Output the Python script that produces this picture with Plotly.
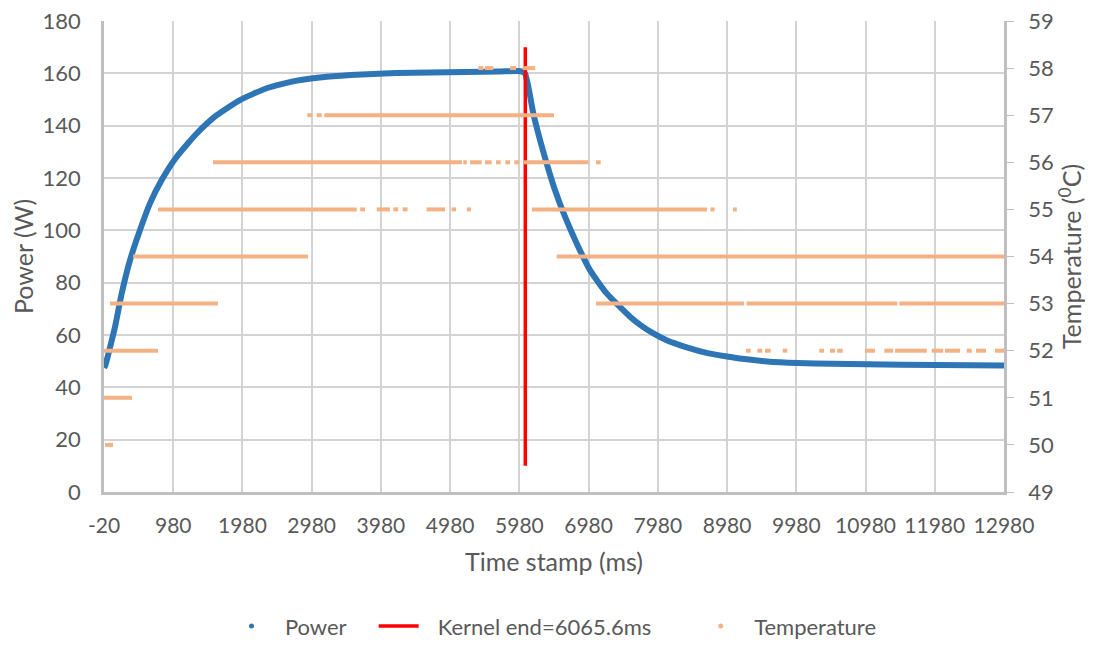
import plotly.graph_objects as go

# ---- Power series (ms, W) ----
power_t = [-20, 0, 50, 140, 236, 356, 500, 644, 813, 1030, 1319, 1608, 1944, 2330,
           2763, 3200, 3700, 4200, 4700, 5200, 5700, 6000, 6061, 6109, 6181, 6278,
           6374, 6494, 6639, 6808, 7000, 7241, 7578, 7750, 7915, 8100, 8397, 8700,
           8979, 9200, 9557, 10000, 10500, 11000, 12000, 12980]
power_w = [47.5, 48.5, 53.5, 63.2, 75.9, 88.6, 100.1, 110.3, 119.2, 128.1, 137, 144, 149.8, 154.3,
           157.2, 158.7, 159.6, 160.1, 160.3, 160.5, 160.7, 160.8, 160, 154.9, 144.7, 134.5,
           125.6, 115.4, 105.2, 95, 84.8, 75.9, 67, 63.4, 60.6, 58.1, 55.3, 53.1,
           51.8, 50.9, 49.9, 49.3, 49.0, 48.8, 48.5, 48.3]

# ---- Kernel end marker ----
kernel_end = 6065.6
kernel_y = [10, 170]

# ---- Temperature runs: level (degC), start (ms), end (ms) ----
temp_level = [50, 51, 52, 53, 54,
              55, 55, 55, 55, 55, 55, 55, 55,
              56, 56, 56, 56, 56, 56, 56, 56, 56,
              57, 57, 57,
              58, 58, 58, 58,
              55, 55, 55,
              54,
              53, 53, 53,
              52, 52, 52, 52, 52, 52, 52, 52, 52, 52, 52, 52, 52, 52, 52]
temp_start = [-5, -20, -20, 67, 400,
              760, 3680, 3920, 4160, 4295, 4640, 5000, 5220,
              1555, 5170, 5267, 5483, 5642, 5777, 5907, 6037, 7087,
              2917, 3052, 3162,
              5387, 5483, 5845, 6028,
              6160, 8740, 9065,
              6519,
              7087, 9263, 11468,
              9253, 9417, 9528, 9784, 10312, 10467, 10572, 10972, 11251, 11406, 11936, 12128, 12442, 12576, 12850]
temp_end = [110, 385, 760, 1627, 2927,
            3630, 3750, 4110, 4230, 4365, 4905, 5065, 5280,
            5150, 5220, 5436, 5580, 5710, 5845, 5975, 6976, 7155,
            2990, 3124, 6480,
            5460, 5603, 5931, 6207,
            8690, 8800, 9120,
            12980,
            9225, 11439, 12980,
            9321, 9489, 9610, 9850, 10380, 10539, 10650, 11116, 11381, 11864, 12103, 12345, 12514, 12720, 12980]

# x tick labels
x_ticks = list(range(-20, 13000, 1000))

BLUE = "#2E75B6"
RED = "#FF0000"
ORANGE = "#F4B183"
GREY_TXT = "#595959"
GRID = "#D3D3D3"
AXIS = "#BFBFBF"
FONT = "Lato, Calibri, sans-serif"
NB = "\u00a0"
TH = "\u2009"

# Build segment polyline with gaps
tx, ty = [], []
for lv, s, e in zip(temp_level, temp_start, temp_end):
    tx += [s, e, None]
    ty += [lv, lv, None]

fig = go.Figure()

fig.add_trace(go.Scatter(x=power_t, y=power_w, mode="lines",
                         line=dict(color=BLUE, width=6, shape="spline", smoothing=0.5),
                         showlegend=False, yaxis="y", name="Power"))
fig.add_trace(go.Scatter(x=[kernel_end, kernel_end], y=kernel_y, mode="lines",
                         line=dict(color=RED, width=3.5), showlegend=False,
                         yaxis="y", name="Kernel end=6065.6ms"))
fig.add_trace(go.Scatter(x=tx, y=ty, mode="lines",
                         line=dict(color=ORANGE, width=4), showlegend=False,
                         yaxis="y2", name="Temperature", connectgaps=False))

# legend proxies
fig.add_trace(go.Scatter(x=[None], y=[None], mode="markers",
                         name=NB + TH + "Power" + NB * 4,
                         marker=dict(color=BLUE, size=5), yaxis="y"))
fig.add_trace(go.Scatter(x=[None], y=[None], mode="lines",
                         name=NB * 2 + TH + "Kernel end=6065.6ms" + NB * 7,
                         line=dict(color=RED, width=3.5), yaxis="y"))
fig.add_trace(go.Scatter(x=[None], y=[None], mode="markers",
                         name=NB + TH + "Temperature",
                         marker=dict(color=ORANGE, size=5), yaxis="y"))

fig.update_layout(
    width=1085, height=637,
    margin=dict(l=96, r=89, t=13, b=153, autoexpand=False),
    paper_bgcolor="white", plot_bgcolor="white",
    font=dict(family=FONT, color=GREY_TXT, size=20),
    xaxis=dict(range=[-20, 12980], tickmode="array", tickvals=x_ticks,
               ticktext=[str(v) for v in x_ticks], automargin=False,
               showgrid=True, gridcolor=GRID, gridwidth=2,
               showline=True, linecolor=AXIS, linewidth=2.5,
               ticks="", ticklabelstandoff=13,
               zeroline=False, tickfont=dict(size=21),
               title=dict(text="Time stamp (ms)", font=dict(size=25), standoff=18)),
    yaxis=dict(range=[0, 180], dtick=20, showgrid=True, gridcolor=GRID, gridwidth=2,
               showline=True, linecolor=AXIS, linewidth=2.5, automargin=False,
               ticks="", ticklabelstandoff=16, ticklabeloverflow="allow",
               zeroline=False, tickfont=dict(size=22),
               title=dict(text="Power (W)", font=dict(size=25), standoff=10)),
    yaxis2=dict(range=[49, 59], dtick=1, overlaying="y", side="right",
                showgrid=False, showline=True, linecolor=AXIS, linewidth=2.5,
                automargin=False, ticklabeloverflow="allow",
                ticks="outside", ticklen=7, tickcolor=AXIS, ticklabelstandoff=10,
                zeroline=False, tickfont=dict(size=22),
                title=dict(text="Temperature (<sup>0</sup>C)", font=dict(size=25), standoff=10)),
    legend=dict(orientation="h", x=0.5, xanchor="center", y=-0.285, yanchor="middle",
                font=dict(size=22), itemwidth=40, tracegroupgap=0),
    showlegend=True,
)

fig.write_html("out.html")
